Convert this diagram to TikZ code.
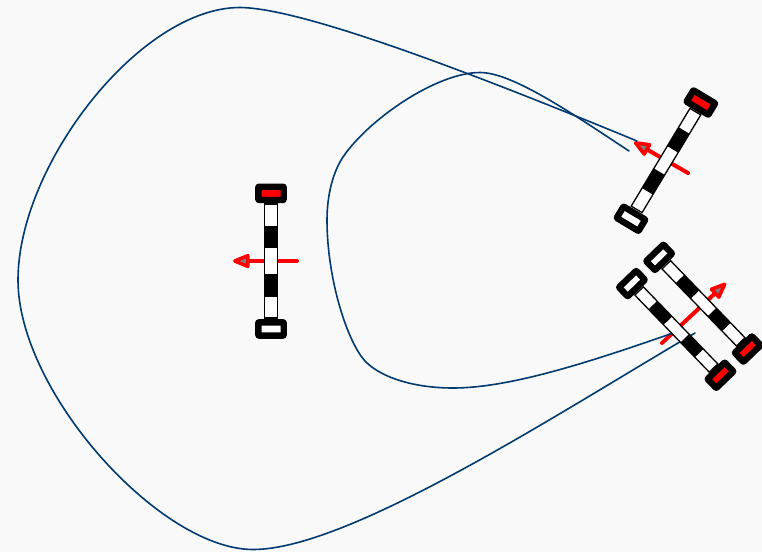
\documentclass[tikz,border=0pt]{standalone}
\usetikzlibrary{arrows.meta}
\definecolor{pagebg}{HTML}{F9F9F9}
\definecolor{pathblue}{HTML}{003A70}
\tikzset{
  heading/.style={red,line width=4pt,line cap=round,
    -{Triangle[length=20pt,width=15pt,fill=gray,line width=3.6pt,round]}},
  trajectory/.style={pathblue,line width=1.6pt,line cap=round},
  rod/.style={draw=black,fill=white,line width=1.3pt},
  band/.style={fill=black},
  wheel/.style={draw=black,line width=6.4pt,rounded corners=0.5pt,line join=round},
  pics/axle/.style={code={
    \draw[rod] (-6.3,-57) rectangle (6.3,57);
    \fill[band] (-6.3,-35) rectangle (6.3,-13);
    \fill[band] (-6.3,13) rectangle (6.3,36);
    \draw[wheel,fill=red] (-12.7,-74.3) rectangle (12.7,-61);
    \draw[wheel,fill=white] (-12.7,61.3) rectangle (12.7,74.6);
  }}
}
\begin{document}
\begin{tikzpicture}[x=1pt,y=-1pt]
  \useasboundingbox[fill=pagebg] (0,0) rectangle (762,552);
  \coordinate (start) at (271,261);
  \coordinate (goal) at (666,160.5);
  \coordinate (rear) at (676.3,329.5);
  \coordinate (front) at (703.5,303.3);
  \coordinate (outerend) at (695,333);
  \coordinate (innerend) at (673,333);
  \coordinate (outergoal) at (637,141);
  \coordinate (innergoal) at (629,151);
  % heading of each pose
  \draw[heading] (297,261) -- (233,261);
  \draw[heading] (688,173) -- (634,142);
  \draw[heading] (662,343) -- (726,283);
  % the two paths
  \draw[trajectory] (outerend)
    .. controls (560,412) and (350,549.5) .. (253,549.5)
    .. controls (160,549.5) and (18,392) .. (18,280)
    .. controls (18,165) and (140,7.5) .. (240,7.5)
    .. controls (300,8) and (460,68) .. (outergoal);
  \draw[trajectory] (innerend)
    .. controls (590,362) and (510,388) .. (453,388)
    .. controls (415,388) and (382,378) .. (366,362)
    .. controls (348,344) and (327,280) .. (327,220)
    .. controls (327,195) and (333,172) .. (343,157)
    .. controls (368,120) and (436,72.5) .. (480,72.5)
    .. controls (512,72.5) and (570,112) .. (innergoal);
  % poses
  \pic at (start) {axle};
  \pic[rotate=-31] at (goal) {axle};
  \pic[rotate=-136,scale=0.94] at (front) {axle};
  \pic[rotate=-136,scale=0.94] at (rear) {axle};
\end{tikzpicture}
\end{document}
